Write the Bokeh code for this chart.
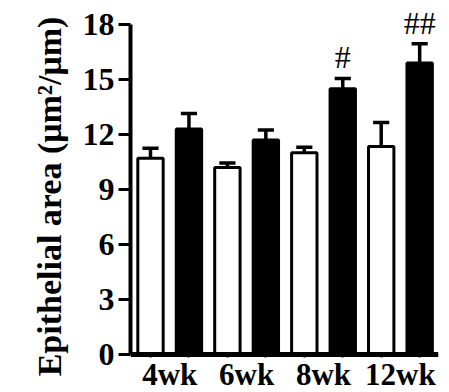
from bokeh.plotting import figure
from bokeh.models import ColumnDataSource, FixedTicker, Range1d
from bokeh.core.properties import value
from bokeh.embed import file_html
from bokeh.resources import INLINE

# ---- data ----
weeks = ["4wk", "6wk", "8wk", "12wk"]
control_mean = [10.7, 10.2, 11.0, 11.35]
control_err = [0.55, 0.25, 0.3, 1.3]
treated_mean = [12.3, 11.7, 14.5, 15.9]
treated_err = [0.85, 0.55, 0.55, 1.05]
treated_marks = ["", "", "#", "##"]
y_ticks = [0, 3, 6, 9, 12, 15, 18]

FONT = "Liberation Serif"

# bar positions: two bars per week, evenly spaced
cx = [2 * i for i in range(len(weeks))]
tx = [2 * i + 1 for i in range(len(weeks))]
gx = [2 * i + 0.5 for i in range(len(weeks))]

p = figure(width=449, height=392, output_backend="svg", toolbar_location=None,
           x_range=Range1d(-0.52, 7.49), y_range=Range1d(-2.073, 19.309),
           min_border_left=130, min_border_right=11, min_border_top=0,
           min_border_bottom=0)
p.outline_line_color = None
p.xgrid.visible = False
p.ygrid.visible = False
p.background_fill_color = "white"
p.border_fill_color = "white"

src_c = ColumnDataSource(dict(x=cx, top=control_mean, err=control_err,
                              up=[m + e for m, e in zip(control_mean, control_err)],
                              l=[x - 0.21 for x in cx], r=[x + 0.21 for x in cx]))
src_t = ColumnDataSource(dict(x=tx, top=treated_mean, err=treated_err,
                              up=[m + e for m, e in zip(treated_mean, treated_err)],
                              l=[x - 0.21 for x in tx], r=[x + 0.21 for x in tx],
                              mark=treated_marks))

for src in (src_c, src_t):
    p.segment(x0="x", y0="top", x1="x", y1="up", source=src,
              line_color="black", line_width=3.5)
    p.segment(x0="l", y0="up", x1="r", y1="up", source=src,
              line_color="black", line_width=3.5)

p.vbar(x="x", top="top", width=0.66, bottom=0, source=src_c,
       fill_color="white", line_color="black", line_width=3)
p.vbar(x="x", top="top", width=0.66, bottom=0, source=src_t,
       fill_color="black", line_color="black", line_width=3)

# significance marks above treated bars (baseline a little above the cap)
mark_y = [u + 1.15 for u in src_t.data["up"]]
src_m = ColumnDataSource(dict(x=tx, y=mark_y, mark=treated_marks))
p.text(x="x", y="y", text="mark", source=src_m, text_align="center",
       text_baseline="alphabetic", text_font=value(FONT), text_font_size="32px",
       text_color="black")

# y axis
ya = p.yaxis[0]
ya.ticker = FixedTicker(ticks=y_ticks)
ya.bounds = (0, 18)
ya.axis_line_width = 4
ya.axis_line_color = "black"
ya.major_tick_line_color = "black"
ya.major_tick_line_width = 3
ya.major_tick_out = 12
ya.major_tick_in = 0
ya.minor_tick_line_color = None
ya.major_label_text_font = FONT
ya.major_label_text_font_style = "bold"
ya.major_label_text_font_size = "32px"
ya.major_label_text_color = "black"
ya.major_label_standoff = 4
ya.axis_label = "Epithelial area (\u03bcm\u00b2/\u03bcm)"
ya.axis_label_text_font = FONT
ya.axis_label_text_font_style = "bold"
ya.axis_label_text_font_size = "34px"
ya.axis_label_text_color = "black"
ya.axis_label_standoff = 12

# x axis sits at y = 0; ticks under every bar, week names under each pair
xa = p.xaxis[0]
xa.fixed_location = 0
xa.ticker = FixedTicker(ticks=gx, minor_ticks=cx + tx)
xa.major_label_overrides = {g: w for g, w in zip(gx, weeks)}
xa.axis_line_width = 5
xa.axis_line_color = "black"
xa.major_tick_line_color = None
xa.major_tick_out = 0
xa.major_tick_in = 0
xa.minor_tick_out = 3
xa.minor_tick_in = 0
xa.minor_tick_line_width = 2
xa.minor_tick_line_color = "black"
xa.major_label_text_font = FONT
xa.major_label_text_font_style = "bold"
xa.major_label_text_font_size = "31px"
xa.major_label_text_color = "black"
xa.major_label_standoff = 0

open("out.html", "w").write(file_html(p, INLINE))
